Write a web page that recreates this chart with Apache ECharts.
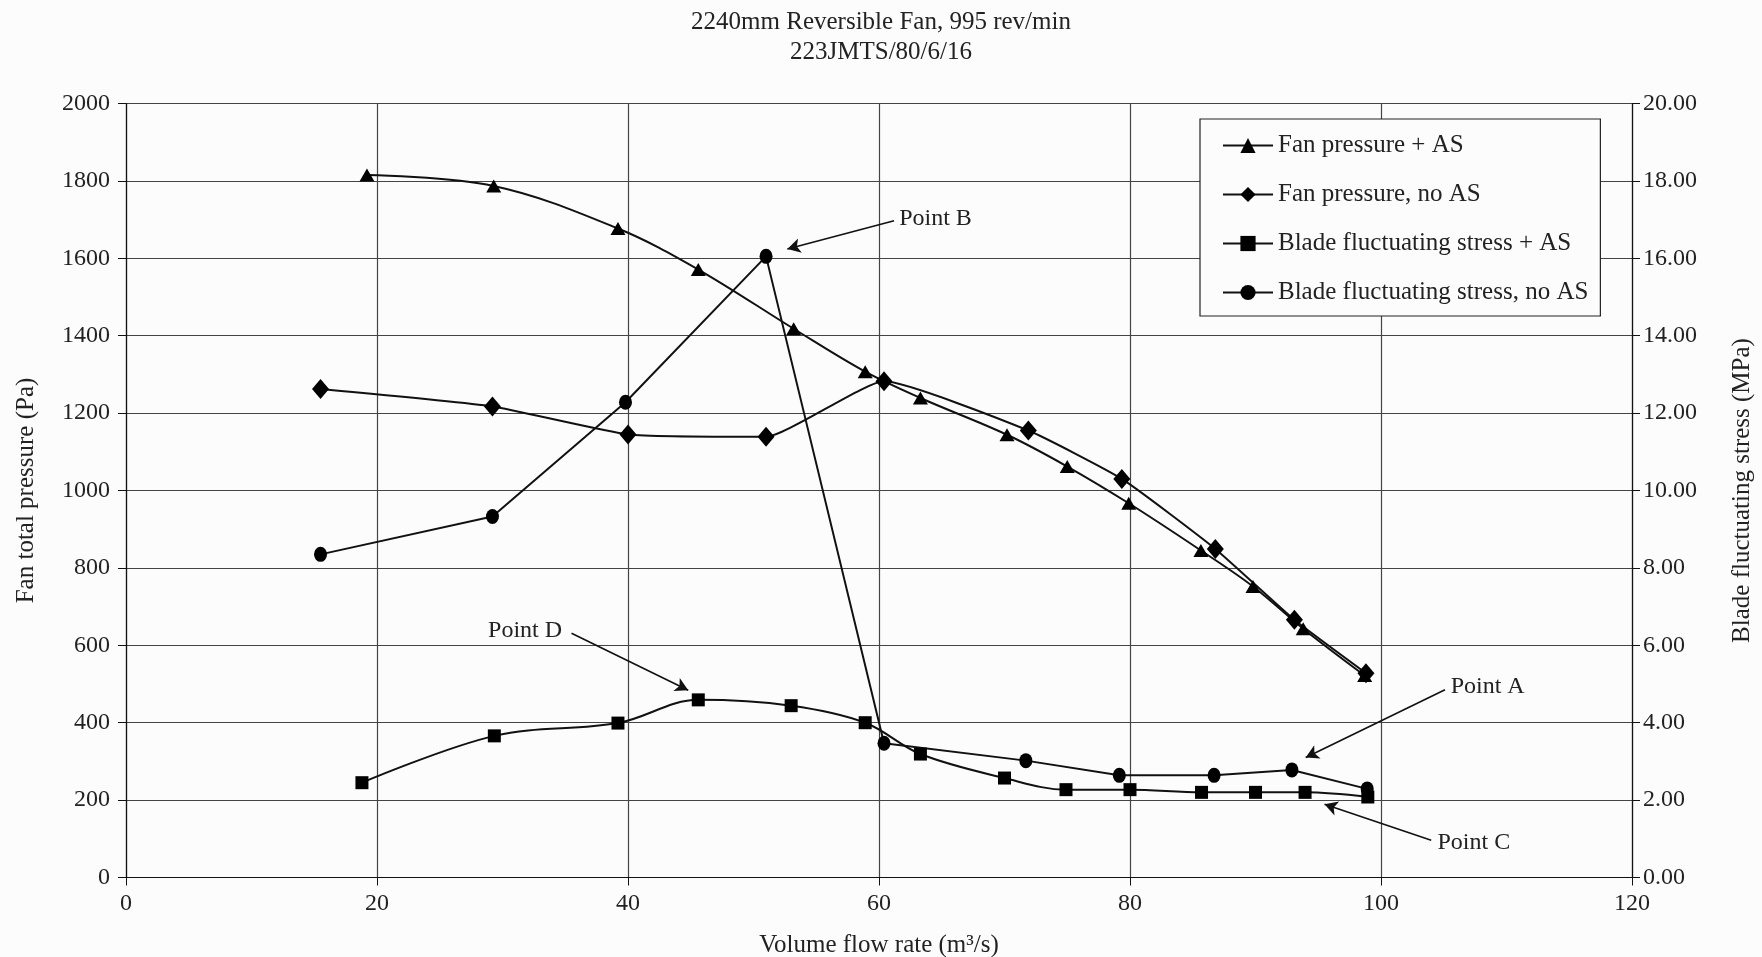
<!DOCTYPE html>
<html>
<head>
<meta charset="utf-8">
<script src="https://cdn.jsdelivr.net/npm/echarts@6/dist/echarts.min.js"></script>
<style>
html,body{margin:0;padding:0;background:#fdfcfd;overflow:hidden;}
#chart{width:1762px;height:957px;}
</style>
</head>
<body>
<div id="chart"></div>
<script>
// ---- Data ----
const titleLines = ['2240mm Reversible Fan, 995 rev/min', '223JMTS/80/6/16'];
const seriesNames = ['Fan pressure + AS', 'Fan pressure, no AS', 'Blade fluctuating stress + AS', 'Blade fluctuating stress, no AS'];

const fanAS_x = [19.2, 29.3, 39.2, 45.6, 53.2, 58.9, 63.3, 70.2, 75.0, 79.9, 85.65, 89.8, 93.8, 98.7];
const fanAS_y = [1815, 1787, 1677, 1571, 1418, 1307, 1239, 1144, 1062, 967, 845, 752, 643, 522];

const fanNo_x = [15.5, 29.2, 40.0, 51.0, 60.4, 71.9, 79.35, 86.8, 93.1, 98.8];
const fanNo_y = [1262, 1217, 1145, 1139, 1282, 1155, 1030, 849, 666, 528];

const stressAS_x = [18.8, 29.35, 39.2, 45.6, 53.0, 58.9, 63.3, 70.0, 74.9, 80.0, 85.7, 90.0, 93.95, 98.95];
const stressAS_y = [2.45, 3.66, 3.99, 4.59, 4.44, 4.00, 3.19, 2.57, 2.27, 2.27, 2.20, 2.20, 2.20, 2.08];

const stressNo_x = [15.5, 29.2, 39.8, 51.0, 60.4, 71.7, 79.15, 86.7, 92.9, 98.9];
const stressNo_y = [8.35, 9.33, 12.28, 16.05, 3.47, 3.02, 2.64, 2.64, 2.78, 2.29];

// annotations (in x / Pa data units)
const annoText = ['Point B', 'Point D', 'Point A', 'Point C'];
const annoTextPos = [[64.5, 1703], [31.8, 638], [108.5, 492], [107.4, 89]];
const annoArrowFrom = [[61.2, 1697], [35.5, 631], [105.1, 485], [104.0, 96]];
const annoArrowTo = [[52.7, 1624], [44.8, 484], [94.0, 310], [95.5, 189]];

const FONT = 'Liberation Serif, Times New Roman, serif';
const pair = (xs, ys) => xs.map((x, i) => [x, ys[i]]);

const chart = echarts.init(document.getElementById('chart'), null, {renderer: 'canvas', width: 1762, height: 957});

const baseSeries = (name, data, symbol, size, yIdx, smooth) => ({
  name, type: 'line', data, yAxisIndex: yIdx, symbol, symbolSize: size,
  smooth, showSymbol: true,
  lineStyle: {color: '#111', width: 2},
  itemStyle: {color: '#000'},
  animation: false
});

const s0 = baseSeries(seriesNames[0], pair(fanAS_x, fanAS_y), 'triangle', [15, 13], 0, 0.35);
s0.markLine = {
  silent: true, animation: false,
  symbol: ['none', 'arrow'], symbolSize: [11, 13],
  label: {show: false},
  lineStyle: {color: '#111', width: 1.6, type: 'solid'},
  data: annoArrowFrom.map((f, i) => [{coord: f}, {coord: annoArrowTo[i]}])
};
s0.markPoint = {
  silent: true, animation: false,
  symbol: 'circle', symbolSize: 0,
  label: {show: true, position: 'inside', color: '#222', fontFamily: FONT, fontSize: 24},
  data: annoText.map((t, i) => ({coord: annoTextPos[i], value: t, label: {formatter: t}}))
};

const option = {
  backgroundColor: '#fdfcfd',
  animation: false,
  title: {
    text: titleLines.join('\n'),
    left: 'center', top: 2,
    textStyle: {fontFamily: FONT, fontSize: 25, fontWeight: 'normal', color: '#222', lineHeight: 30}
  },
  legend: {
    orient: 'vertical',
    left: 1200, top: 119,
    data: seriesNames,
    backgroundColor: '#fdfcfd',
    borderColor: '#222', borderWidth: 1.2,
    padding: [14, 12, 11, 22],
    itemWidth: 50, itemHeight: 19, itemGap: 24,
    textStyle: {fontFamily: FONT, fontSize: 25, color: '#222', lineHeight: 24}
  },
  grid: {left: 126, right: 130, top: 103.5, bottom: 79.5, containLabel: false, outerBoundsMode: 'none'},
  xAxis: {
    type: 'value', min: 0, max: 120, interval: 20,
    name: 'Volume flow rate (m³/s)', nameLocation: 'middle', nameGap: 55,
    nameTextStyle: {fontFamily: FONT, fontSize: 25, color: '#222'},
    axisLine: {show: true, lineStyle: {color: '#111', width: 1.2}},
    axisTick: {show: true, inside: false, length: 8, lineStyle: {color: '#111'}},
    axisLabel: {fontFamily: FONT, fontSize: 24, color: '#222', margin: 14},
    splitLine: {show: true, lineStyle: {color: '#444', width: 1.2}}
  },
  yAxis: [{
    type: 'value', min: 0, max: 2000, interval: 200,
    name: 'Fan total pressure (Pa)', nameLocation: 'middle', nameGap: 87, nameRotate: 90,
    nameTextStyle: {fontFamily: FONT, fontSize: 25, color: '#222'},
    axisLine: {show: true, lineStyle: {color: '#111', width: 1.2}},
    axisTick: {show: true, inside: false, length: 8, lineStyle: {color: '#111'}},
    axisLabel: {fontFamily: FONT, fontSize: 24, color: '#222', margin: 16, formatter: v => String(v)},
    splitLine: {show: true, lineStyle: {color: '#444', width: 1.2}}
  }, {
    type: 'value', min: 0, max: 20, interval: 2, position: 'right',
    name: 'Blade fluctuating stress (MPa)', nameLocation: 'middle', nameGap: 98, nameRotate: 90,
    nameTextStyle: {fontFamily: FONT, fontSize: 25, color: '#222'},
    axisLine: {show: true, lineStyle: {color: '#111', width: 1.2}},
    axisTick: {show: true, inside: false, length: 8, lineStyle: {color: '#111'}},
    axisLabel: {fontFamily: FONT, fontSize: 24, color: '#222', margin: 11, formatter: v => v.toFixed(2)},
    splitLine: {show: false}
  }],
  series: [
    s0,
    baseSeries(seriesNames[1], pair(fanNo_x, fanNo_y), 'diamond', [17, 20], 0, 0.15),
    baseSeries(seriesNames[2], pair(stressAS_x, stressAS_y), 'rect', [13, 13], 1, 0.35),
    baseSeries(seriesNames[3], pair(stressNo_x, stressNo_y), 'circle', [13, 15], 1, false)
  ]
};
chart.setOption(option);
</script>
</body>
</html>
